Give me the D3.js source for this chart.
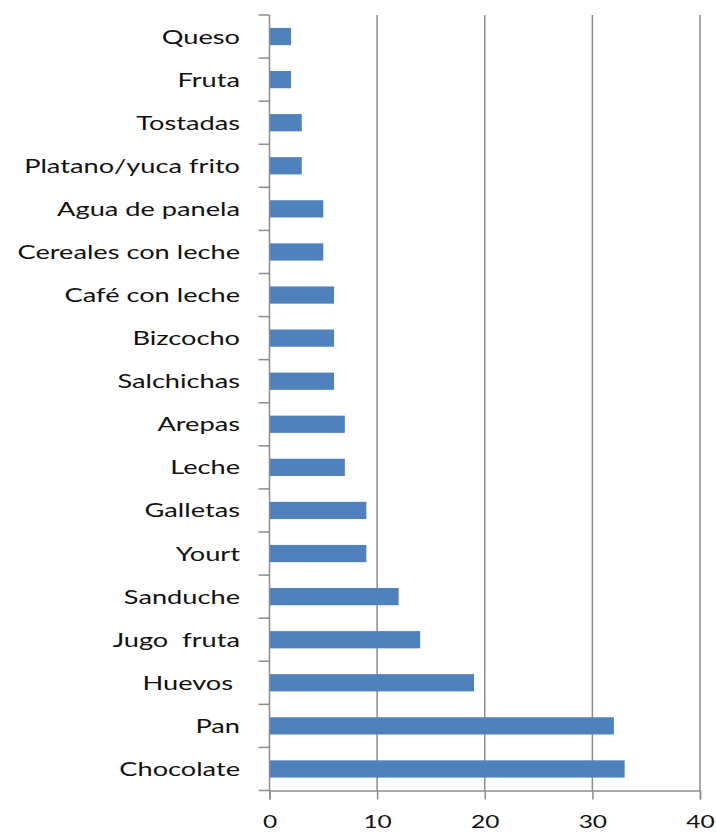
<!DOCTYPE html>
<html>
<head>
<meta charset="utf-8">
<script src="https://cdn.jsdelivr.net/npm/d3@7"></script>
<style>
  html, body { margin: 0; padding: 0; background: #fff; }
  svg text { font-family: Lato, "Open Sans", sans-serif; fill: #111; }
</style>
</head>
<body>
<svg id="chart" width="716" height="833"></svg>
<script>
// Breakfast items (top to bottom) and how many times each was mentioned
const categories = [
  "Queso", "Fruta", "Tostadas", "Platano/yuca frito", "Agua de panela",
  "Cereales con leche", "Café con leche", "Bizcocho", "Salchichas", "Arepas",
  "Leche", "Galletas", "Yourt", "Sanduche", "Jugo  fruta", "Huevos ", "Pan", "Chocolate"
];
const counts = [2, 2, 3, 3, 5, 5, 6, 6, 6, 7, 7, 9, 9, 12, 14, 19, 32, 33];
const xTicks = [0, 10, 20, 30, 40];

const svg = d3.select("#chart");
const plot = { left: 269.5, right: 700, top: 15, bottom: 790.5 };
const labelStretch = "scale(1.36,1)";   // wide lettering

const x = d3.scaleLinear().domain([0, 40]).range([plot.left, plot.right]);
const y = d3.scaleBand().domain(categories).range([plot.top, plot.bottom])
  .paddingInner(0.6).paddingOuter(0.3);

const gridColor = "#8c8c8c";

// vertical gridlines
svg.append("g")
  .selectAll("line")
  .data(xTicks.slice(1))
  .join("line")
  .attr("x1", d => x(d))
  .attr("x2", d => x(d))
  .attr("y1", plot.top)
  .attr("y2", plot.bottom)
  .attr("stroke", gridColor)
  .attr("stroke-width", 1.5);

// bars
svg.append("g")
  .selectAll("rect")
  .data(categories)
  .join("rect")
  .attr("x", x(0))
  .attr("y", d => y(d))
  .attr("width", (d, i) => x(counts[i]) - x(0))
  .attr("height", y.bandwidth())
  .attr("fill", "#4f81bd");

// category axis: ticks at band boundaries
const yAxisG = svg.append("g");
yAxisG.append("line")
  .attr("x1", plot.left).attr("x2", plot.left)
  .attr("y1", plot.top).attr("y2", plot.bottom)
  .attr("stroke", gridColor).attr("stroke-width", 1.5);
yAxisG.selectAll("line.tick")
  .data(d3.range(categories.length + 1).map(i => plot.top + i * y.step()))
  .join("line")
  .attr("class", "tick")
  .attr("x1", plot.left - 11).attr("x2", plot.left)
  .attr("y1", d => d).attr("y2", d => d)
  .attr("stroke", gridColor).attr("stroke-width", 1.5);
yAxisG.selectAll("g.label")
  .data(categories)
  .join("g")
  .attr("class", "label")
  .attr("transform", d => `translate(240,${y(d) + y.bandwidth() / 2})`)
  .append("text")
  .attr("transform", labelStretch)
  .attr("dy", "0.35em")
  .attr("text-anchor", "end")
  .attr("font-size", 20)
  .style("white-space", "pre")
  .text(d => d);

// value axis
const xAxis = d3.axisBottom(x).tickValues(xTicks).tickSize(9).tickPadding(15.5);
const xg = svg.append("g").attr("transform", `translate(0,${plot.bottom})`).call(xAxis);
xg.select(".domain").attr("stroke", gridColor).attr("stroke-width", 1.5);
xg.selectAll(".tick line").attr("stroke", gridColor).attr("stroke-width", 1.5);
xg.selectAll(".tick text").attr("font-size", 18).attr("transform", labelStretch)
  .style("font-family", "Lato, 'Open Sans', sans-serif").attr("fill", "#111");
</script>
</body>
</html>
